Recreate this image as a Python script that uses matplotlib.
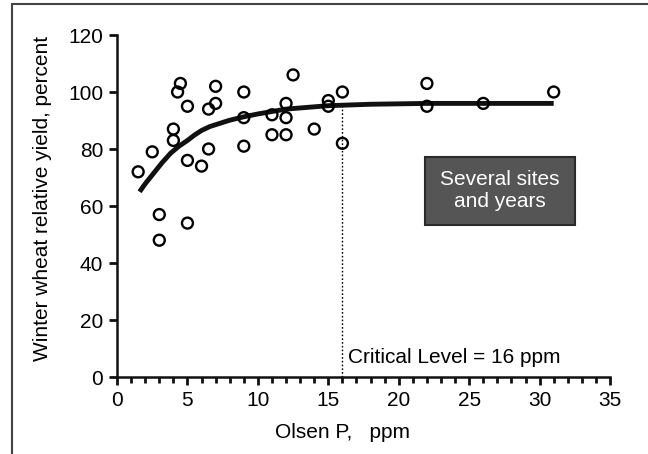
import matplotlib
matplotlib.use("Agg")
import matplotlib.pyplot as plt
from matplotlib.patches import Rectangle

plt.rcParams["font.family"] = ["Liberation Sans", "DejaVu Sans"]

# observed relative yields (Olsen P ppm, % yield)
olsen_p = [1.5, 2.5, 3, 3, 4, 4, 4.3, 4.5, 5, 5, 5, 6, 6.5, 6.5, 7, 7,
           9, 9, 9, 11, 11, 12, 12, 12, 12.5, 14, 15, 15, 16, 16, 22, 22, 26, 31]
rel_yield = [72, 79, 57, 48, 87, 83, 100, 103, 95, 76, 54, 74, 94, 80, 102, 96,
             100, 91, 81, 92, 85, 96, 91, 85, 106, 87, 97, 95, 100, 82, 103, 95, 96, 100]

# fitted response curve
fit_x = [1.6, 2.0, 2.6, 3.2, 3.8, 4.4, 5, 5.5, 6, 6.6, 7.3, 8, 9, 10, 12, 15, 18, 22, 26, 31]
fit_y = [65, 67.8, 71.5, 75.2, 78.5, 81, 83, 84.9, 86.5, 87.9, 89, 90.1, 91.3, 92.3,
         94, 95.2, 95.7, 96, 96, 96]

CRIT = 16
CRIT_TOP = 96

fig = plt.figure(figsize=(6.48, 4.54), dpi=100)
ax = fig.add_axes([0.1806, 0.1696, 0.7608, 0.7533])

ax.plot(fit_x, fit_y, color="#111111", lw=3.5, solid_capstyle="butt",
        solid_joinstyle="round", zorder=2)
ax.scatter(olsen_p, rel_yield, s=62, facecolor="none", edgecolor="black",
           linewidths=1.7, zorder=3)
ax.plot([CRIT, CRIT], [0, CRIT_TOP], color="black", lw=1.0, ls=(0, (1.2, 1.5)), zorder=1)
ax.text(CRIT + 0.4, 7.0, "Critical Level = 16 ppm", fontsize=15, va="center", ha="left")

# label box
ax.add_patch(Rectangle((21.86, 53.3), 10.64, 23.9, fc="#555555", ec="#2a2a2a",
                       lw=1.5, zorder=4))
ax.text(27.2, 65.3, "Several sites\nand years", fontsize=15, color="white",
        ha="center", va="center", linespacing=1.2, zorder=5)

ax.set_xlim(0, 35)
ax.set_ylim(0, 120)
ax.set_xticks(range(0, 36, 5))
ax.set_xticks(range(0, 36, 1), minor=True)
ax.set_yticks(range(0, 121, 20))
ax.tick_params(axis="both", which="major", direction="out", length=6, width=2,
               labelsize=15, color="#111111", pad=4)
ax.tick_params(axis="x", which="minor", direction="out", length=4, width=2, color="#111111")
ax.spines[["top", "right"]].set_visible(False)
for s in ("left", "bottom"):
    ax.spines[s].set_linewidth(1.8)
    ax.spines[s].set_color("#111111")

ax.set_xlabel("Olsen P,   ppm", fontsize=15)
ax.xaxis.set_label_coords(0.458, -0.135)
ax.set_ylabel("Winter wheat relative yield, percent", fontsize=15)
ax.yaxis.set_label_coords(-0.132, 0.523)

# outer frame of the original figure (right/bottom edges fall outside the image)
fig.patches.append(Rectangle((12 / 648, -0.05), 1.0, 1.05 - 4 / 454,
                             transform=fig.transFigure, fill=False,
                             ec="#444444", lw=1.5))

fig.savefig("out.png", dpi=100)
